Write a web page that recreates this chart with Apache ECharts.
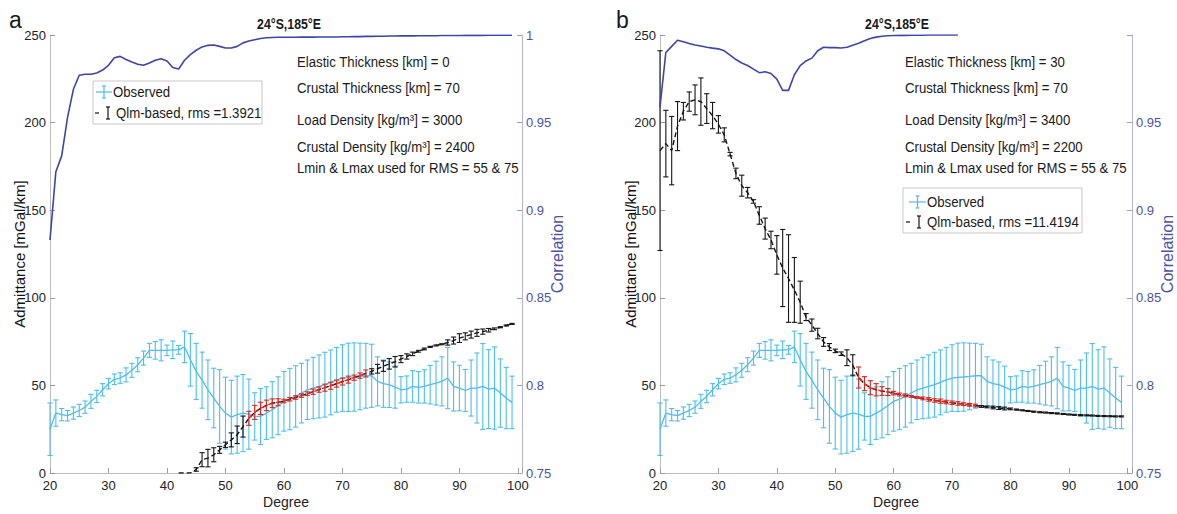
<!DOCTYPE html>
<html><head><meta charset="utf-8">
<script src="https://cdn.jsdelivr.net/npm/echarts@6/dist/echarts.min.js"></script>
<style>html,body{margin:0;padding:0;background:#fff}#c{width:1177px;height:514px}</style>
</head><body><div id="c"></div>
<script>
// ---------- DATA ----------
const degrees = [20,21,22,23,24,25,26,27,28,29,30,31,32,33,34,35,36,37,38,39,
  40,41,42,43,44,45,46,47,48,49,50,51,52,53,54,55,56,57,58,59,
  60,61,62,63,64,65,66,67,68,69,70,71,72,73,74,75,76,77,78,79,
  80,81,82,83,84,85,86,87,88,89,90,91,92,93,94,95,96,97,98,99];

// Observed admittance (same in both panels) and its error half-width
const observed = [25,34.2,33.3,32.7,34.2,35.7,37.6,40.9,43.7,47.5,
  51,53.5,54.2,56,58.6,61.8,65.6,70,70,70,
  70,70.3,70.3,72,64.6,58,53,47.5,42.8,38,
  34.2,31.9,33.3,34.2,33.6,32.3,32.3,34.2,36.1,38.4,
  40.9,42.2,43.7,45.6,47.5,48.5,49.4,50.4,51.7,53.2,
  54.2,54.6,54.8,55.1,55.5,55.5,52.3,51,50.4,49,
  47.5,47.9,49.4,48.9,49.4,50.4,51.3,52.3,54.2,49.4,
  48.5,47.1,48.5,48.5,49.4,47.9,48.5,45.6,42.8,40.3];
const observedErr = [15,7.5,3.5,3,3.5,3.5,3.5,4,3.5,3.5,
  3,3,3,4,4,4,4,4,5,6,
  3,5,2.5,9,15,16,16,17,17,21,
  20.5,21,22,22,20,13.5,16,15,16,16.5,
  17,17.5,17.5,17,17,17.5,18,18.5,18.5,18.5,
  19,19.5,19.5,19,18.5,18,14,13.5,13,12,
  7.5,7.5,9,9,9.5,11,12.5,14,17.5,14,
  13,12,16,20,24.5,22.5,23.5,19.5,17.5,15];

// Panel a: Qlm-based model (Te = 0 km)
const modelA = [null,null,null,null,null,null,null,null,null,null,
  null,null,null,null,null,null,null,null,null,null,
  null,null,0,0,0,2,7.6,8.5,10.4,13.2,
  16.1,18.9,21.8,26.5,31.2,34.6,36.9,38.6,39.8,40.4,
  41.1,42.1,43.1,44.2,45.3,46.4,47.6,48.7,49.8,51,
  52.2,53.3,54.4,55.6,56.8,58,59.5,61,62.3,63.5,
  65,66.5,68,69.5,70.8,72,72.8,73.5,74.5,75.6,
  77,78,79,80,80.7,81.5,82.3,83.2,84.2,85.1];
const modelAErr = [null,null,null,null,null,null,null,null,null,null,
  null,null,null,null,null,null,null,null,null,null,
  null,null,0,0,0,1,4,5,4,2,
  1.5,4,5,6,4,4,3.5,3,2.5,2,
  1,1,1,1,1,1.5,1.5,2,2,2,
  2,2,1.5,1.5,2,1.5,2.5,3,3,3,
  2,1.5,1,0.5,0.5,0.3,0.3,0.3,1.5,2,
  2.5,2,2,2,1.5,1,0.5,0.3,0.3,0.3];

// Panel b: Qlm-based model (Te = 30 km)
const modelB = [184,188,184,198,206.5,212,213,212,208,204,
  199,193,182,171,164,160,155,147,139.5,133,
  124.5,117,111,104.5,97.5,89,84.4,79.6,74.8,71.9,
  69.7,68.1,65.8,61.5,54.5,51,48.7,47.5,46.8,46.2,
  45.6,44.8,44.3,43.7,43.1,42.6,42,41.4,41,40.5,
  40.1,39.7,39.3,38.9,38.5,38,37.7,37.4,37.1,36.8,
  36.6,36.2,35.8,35.4,35,34.7,34.5,34.2,34,33.7,
  33.4,33.2,33,32.9,32.8,32.6,32.5,32.4,32.3,32.3];
const modelBErr = [57,19,19.5,14,5,5.5,8.5,13.5,8.5,7.5,
  5,4,1,3,6,3,1,5,6,5,
  11,22,25,18.5,12,2,3.5,3,2.5,2,
  1,1,4.5,6,6,4,4,3.5,2.5,2,
  1,0.8,0.8,0.5,0.5,0.8,1,1,1.2,1,
  1,1,0.8,0.8,0.8,0.5,0.5,0.8,0.8,0.8,
  0.5,0.3,0.3,0.3,0.3,0.3,0.3,0.3,0.3,0.3,
  0.3,0.3,0.3,0.3,0.3,0.3,0.3,0.3,0.3,0.3];

// Correlation (right axis)
const corrA = [0.883,0.922,0.931,0.953,0.969,0.977,0.9776,0.9776,0.9783,0.980,
  0.9827,0.987,0.9878,0.986,0.9846,0.9833,0.9827,0.984,0.9856,0.9865,
  0.9852,0.9815,0.9806,0.9856,0.9888,0.9913,0.9932,0.9941,0.9943,0.9935,
  0.9926,0.9926,0.9935,0.9955,0.9966,0.9973,0.998,0.9984,0.9986,0.9987,
  0.9987,0.9987,0.9987,0.9988,0.9988,0.9988,0.9989,0.9989,0.9989,0.9989,
  0.999,0.999,0.9991,0.9991,0.9992,0.9992,0.9993,0.9993,0.9994,0.9994,
  0.9995,0.9995,0.9995,0.9996,0.9996,0.9996,0.9996,0.9997,0.9997,0.9997,
  0.9997,0.9998,0.9998,0.9998,0.9998,0.9999,0.9999,0.9999,0.9999,0.9999];
const corrB = [0.959,0.990,0.9935,0.997,0.9962,0.9952,0.9943,0.9937,0.993,0.9925,
  0.9921,0.991,0.9885,0.986,0.984,0.9826,0.9805,0.9785,0.979,0.978,
  0.9748,0.9684,0.9684,0.9773,0.9825,0.9852,0.9868,0.991,0.993,0.9928,
  0.9928,0.9926,0.993,0.9942,0.9953,0.9967,0.998,0.9988,0.9993,0.9996,
  0.9997,0.9998,0.9998,0.9999,0.9999,0.9999,1,1,1,1,
  1,1,null,null,null,null,null,null,null,null,
  null,null,null,null,null,null,null,null,null,null,
  null,null,null,null,null,null,null,null,null,null];

const rmsDegreeRange = [54, 74];   // highlighted (red) model points
const panelTitle = '24°S,185°E';
const annotA = ['Elastic Thickness [km] = 0','Crustal Thickness [km] = 70','Load Density [kg/m³] = 3000','Crustal Density [kg/m³] = 2400','Lmin & Lmax used for RMS = 55 & 75'];
const annotB = ['Elastic Thickness [km] = 30','Crustal Thickness [km] = 70','Load Density [kg/m³] = 3400','Crustal Density [kg/m³] = 2200','Lmin & Lmax used for RMS = 55 & 75'];
const legendObserved = 'Observed';
const legendModelA = 'Qlm-based, rms =1.3921';
const legendModelB = 'Qlm-based, rms =11.4194';

// ---------- CHART ----------
const FONT = "'Liberation Sans', Arial, Helvetica, sans-serif";
const BLUE = '#4dbeee', CORR = '#3d45a8', RIGHT = '#4c52a6', RED = '#e2231a', BLK = '#151515';
const chart = echarts.init(document.getElementById('c'), null, {renderer: 'svg'});

const inRms = d => d >= rmsDegreeRange[0] && d <= rmsDegreeRange[1];
const pairs = (ys, keep) => degrees.map((d, i) => [d, (keep && !keep(d)) ? null : ys[i]]);

function errBars(xi, yi, vals, errs, color, keep, z) {
  const data = [];
  degrees.forEach((d, i) => {
    if (vals[i] == null || errs[i] == null || errs[i] <= 0) return;
    if (keep && !keep(d)) return;
    data.push([d, vals[i] - errs[i], vals[i] + errs[i]]);
  });
  return {
    type: 'custom', xAxisIndex: xi, yAxisIndex: yi, data, silent: true, z,
    encode: {x: 0, y: [1, 2]},
    renderItem(params, api) {
      const x = api.value(0);
      const lo = api.coord([x, api.value(1)]), hi = api.coord([x, api.value(2)]);
      const c = 2.6, st = {stroke: color, lineWidth: 1.1, fill: null};
      return {type: 'group', children: [
        {type: 'line', shape: {x1: lo[0], y1: lo[1], x2: hi[0], y2: hi[1]}, style: st},
        {type: 'line', shape: {x1: lo[0] - c, y1: lo[1], x2: lo[0] + c, y2: lo[1]}, style: st},
        {type: 'line', shape: {x1: hi[0] - c, y1: hi[1], x2: hi[0] + c, y2: hi[1]}, style: st}
      ]};
    }
  };
}

function lineSeries(xi, yi, data, color, width, dashed, z) {
  return {type: 'line', xAxisIndex: xi, yAxisIndex: yi, data, symbol: 'none', silent: true, z,
    connectNulls: false, clip: true,
    lineStyle: {color, width, type: dashed ? [5, 3] : 'solid'}};
}

function panelSeries(p, model, modelErr, corr) {
  const xi = p, yl = p * 2, yr = p * 2 + 1;
  return [
    errBars(xi, yl, observed, observedErr, BLUE, null, 2),
    lineSeries(xi, yl, pairs(observed), BLUE, 1.3, false, 3),
    lineSeries(xi, yl, pairs(model), BLK, 1.4, true, 4),
    errBars(xi, yl, model, modelErr, BLK, d => !inRms(d), 5),
    lineSeries(xi, yl, pairs(model, inRms), RED, 1.4, true, 6),
    errBars(xi, yl, model, modelErr, RED, inRms, 6),
    lineSeries(xi, yr, pairs(corr), CORR, 1.6, false, 7)
  ];
}

function xAxis(gi, max) {
  return {type: 'value', gridIndex: gi, min: 20, max, interval: 10,
    axisLine: {show: true, lineStyle: {color: '#bdbdbd'}},
    axisTick: {show: true, inside: true, length: 5, lineStyle: {color: '#9a9a9a'}},
    axisLabel: {color: '#222', fontFamily: FONT, fontSize: 13, margin: 6,
      formatter: v => (Math.abs(v % 10) < 1e-9 ? String(v) : '')},
    splitLine: {show: false},
    name: 'Degree', nameLocation: 'middle', nameGap: 22, nameMoveOverlap: false,
    nameTextStyle: {color: '#222', fontFamily: FONT, fontSize: 14}};
}
function yLeft(gi, gap) {
  return {type: 'value', gridIndex: gi, position: 'left', min: 0, max: 250, interval: 50,
    axisLine: {show: true, lineStyle: {color: '#bdbdbd'}},
    axisTick: {show: true, inside: true, length: 5, lineStyle: {color: '#9a9a9a'}},
    axisLabel: {color: '#222', fontFamily: FONT, fontSize: 13, margin: 4},
    splitLine: {show: false},
    name: 'Admittance [mGal/km]', nameLocation: 'middle', nameGap: gap, nameRotate: 90,
    nameMoveOverlap: false,
    nameTextStyle: {color: '#111', fontFamily: FONT, fontSize: 15}};
}
function yRight(gi, showTop) {
  return {type: 'value', gridIndex: gi, position: 'right', min: 0.75, max: 1, interval: 0.05,
    axisLine: {show: true, lineStyle: {color: '#b3b6db'}},
    axisTick: {show: true, inside: true, length: 5, lineStyle: {color: '#9a9ed0'}},
    axisLabel: {color: RIGHT, fontFamily: FONT, fontSize: 13, margin: 4,
      formatter: v => { const n = +v.toFixed(2); return (n === 1 && !showTop) ? '' : String(n); }},
    splitLine: {show: false},
    name: 'Correlation', nameLocation: 'middle', nameGap: 27, nameRotate: 90,
    nameMoveOverlap: false,
    nameTextStyle: {color: RIGHT, fontFamily: FONT, fontSize: 16}};
}

function txt(str, x, y, opt) {
  opt = opt || {};
  return {type: 'text', x, y, scaleX: opt.scaleX == null ? 0.88 : opt.scaleX, silent: true, z: 100,
    style: {text: str, x: 0, y: 0, fill: opt.color || '#1a1a1a',
      font: (opt.weight || 'normal') + ' ' + (opt.size || 15) + 'px ' + FONT,
      textAlign: opt.align || 'left', textVerticalAlign: 'middle'}};
}
function seg(x1, y1, x2, y2, color, w) {
  return {type: 'line', silent: true, z: 100, shape: {x1, y1, x2, y2}, style: {stroke: color, lineWidth: w || 1.2}};
}
function ibeam(x, y1, y2, color) {
  return [seg(x, y1, x, y2, color), seg(x - 2, y1, x + 2, y1, color), seg(x - 2, y2, x + 2, y2, color)];
}
function legend(box, obsIcon, obsTextX, obsY, modDash, beamX, modY, modTextX, label) {
  return [
    {type: 'rect', silent: true, z: 99, shape: box, style: {fill: '#fff', stroke: '#c9c9c9', lineWidth: 1}},
    seg(obsIcon[0], obsY, obsIcon[1], obsY, BLUE),
    ...ibeam((obsIcon[0] + obsIcon[1]) / 2, obsY - 6, obsY + 6, BLUE),
    txt(legendObserved, obsTextX, obsY),
    seg(modDash[0], modY, modDash[1], modY, BLK),
    ...ibeam(beamX, modY - 6, modY + 6, BLK),
    txt(label, modTextX, modY)
  ];
}
const annotY = [62, 88, 120, 147, 168];

const graphics = [
  txt('a', 9, 20, {size: 23, scaleX: 1}),
  txt('b', 616, 20, {size: 23, scaleX: 1}),
  txt(panelTitle, 289, 24, {weight: 'bold', size: 14, align: 'center'}),
  txt(panelTitle, 897, 24, {weight: 'bold', size: 14, align: 'center'}),
  ...annotA.map((s, i) => txt(s, 297, annotY[i])),
  ...annotB.map((s, i) => txt(s, 905, annotY[i])),
  ...legend({x: 93, y: 81, width: 169, height: 43}, [96, 112], 113, 92, [95, 99], 108, 113, 116, legendModelA),
  ...legend({x: 903, y: 188, width: 179, height: 45}, [909, 926], 927, 202, [906, 910], 919, 222, 927, legendModelB)
];

chart.setOption({
  animation: false,
  backgroundColor: '#fff',
  grid: [
    {left: 50, top: 35, width: 472, height: 440},
    {left: 660, top: 35, width: 472, height: 440}
  ],
  xAxis: [xAxis(0, 100.7), xAxis(1, 100.8)],
  yAxis: [yLeft(0, 23), yRight(0, true), yLeft(1, 22), yRight(1, false)],
  series: [
    ...panelSeries(0, modelA, modelAErr, corrA),
    ...panelSeries(1, modelB, modelBErr, corrB)
  ],
  graphic: graphics
});
</script>
</body></html>
